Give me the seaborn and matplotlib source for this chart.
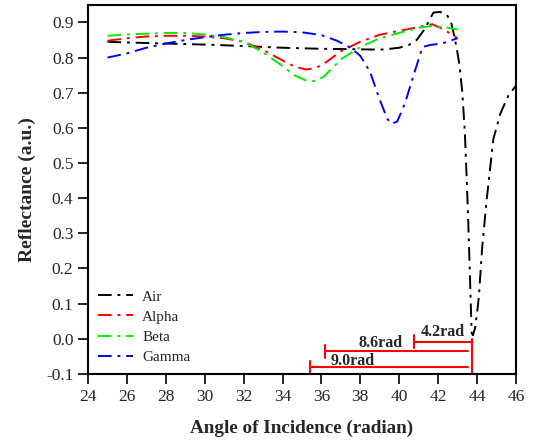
import matplotlib
matplotlib.use("Agg")
import matplotlib.pyplot as plt
import seaborn as sns
import pandas as pd

# Reflectance curves versus angle of incidence
air_x = [25, 26, 28, 30, 32, 34, 36, 37.5, 38.5, 39.2, 40.0, 40.5, 40.9, 41.3, 41.76, 42.1,
         42.44, 42.65, 42.8, 42.95, 43.1, 43.25, 43.38, 43.47, 43.55, 43.65, 43.73, 43.8,
         43.9, 44.0, 44.1, 44.27, 44.5, 44.84, 45.2, 45.6, 46.0]
air_y = [0.845, 0.843, 0.840, 0.837, 0.833, 0.828, 0.825, 0.824, 0.823, 0.823, 0.828, 0.836,
         0.850, 0.880, 0.928, 0.930, 0.922, 0.905, 0.870, 0.830, 0.780, 0.700, 0.586, 0.460,
         0.340, 0.160, 0.016, 0.010, 0.030, 0.070, 0.120, 0.260, 0.395, 0.567, 0.640, 0.690,
         0.720]

alpha_x = [25, 26, 27, 28, 29, 30, 31, 32, 33, 34, 34.6, 35.2, 35.7, 36.2, 37, 38, 39, 40,
           41, 41.7, 42.3, 43]
alpha_y = [0.848, 0.855, 0.860, 0.862, 0.862, 0.860, 0.855, 0.845, 0.822, 0.792, 0.775,
           0.766, 0.770, 0.785, 0.818, 0.845, 0.865, 0.876, 0.887, 0.895, 0.880, 0.855]

beta_x = [25, 26, 27, 28, 29, 30, 31, 32, 33, 34, 34.6, 35.2, 35.6, 36.1, 36.6, 37, 38, 39,
          40, 41, 41.7, 42.5, 43]
beta_y = [0.862, 0.866, 0.868, 0.870, 0.870, 0.866, 0.858, 0.845, 0.815, 0.776, 0.750,
          0.735, 0.733, 0.745, 0.772, 0.795, 0.830, 0.855, 0.870, 0.885, 0.890, 0.885, 0.880]

gamma_x = [25, 26, 27, 28, 29, 30, 31, 32, 33, 34, 35, 36, 36.8, 37.5, 38, 38.5, 39, 39.4,
           39.6, 39.9, 40.3, 40.8, 41.2, 41.6, 42.2, 43]
gamma_y = [0.800, 0.812, 0.828, 0.840, 0.850, 0.858, 0.865, 0.870, 0.873, 0.874, 0.872,
           0.864, 0.848, 0.828, 0.805, 0.760, 0.680, 0.625, 0.612, 0.618, 0.670, 0.760,
           0.830, 0.836, 0.840, 0.855]

# Shift markers: start positions, common end, vertical level and label
shift_labels = ["4.2rad", "8.6rad", "9.0rad"]
shift_start = [40.76, 36.19, 35.39]
shift_end = [43.76, 43.55, 43.55]
shift_level = [-0.008, -0.036, -0.081]
label_x = [42.27, 39.05, 37.6]
label_y = [0.019, -0.011, -0.062]

sns.set_theme(style="ticks")
plt.rcParams["font.family"] = ["Liberation Serif", "DejaVu Serif"]

fig, ax = plt.subplots(figsize=(5.47, 4.42), dpi=100)

series = [("Air", air_x, air_y, "black"),
          ("Alpha", alpha_x, alpha_y, "#ff0000"),
          ("Beta", beta_x, beta_y, "#00ee00"),
          ("Gamma", gamma_x, gamma_y, "#0000ff")]
dash = (0, (7, 3, 1.5, 3))
for name, xs, ys, col in series:
    df = pd.DataFrame({"x": xs, "y": ys})
    sns.lineplot(data=df, x="x", y="y", ax=ax, color=col, linewidth=1.4,
                 linestyle=dash, label=name, sort=False)

# Shift brackets
red = "#ff0000"
for i in range(len(shift_labels)):
    ax.plot([shift_start[i], shift_end[i]], [shift_level[i], shift_level[i]], color=red, lw=1.5)
    ax.plot([shift_start[i], shift_start[i]], [shift_level[i] - 0.019, shift_level[i] + 0.019],
            color=red, lw=1.5)
    ax.text(label_x[i], label_y[i], shift_labels[i], ha="center", va="center",
            fontsize=11.5, fontweight="bold")
ax.plot([43.76, 43.76], [-0.1, 0.0], color=red, lw=1.5)

ax.set_xlim(24, 46)
ax.set_ylim(-0.1, 0.95)
ax.set_xticks(range(24, 47, 2))
ax.set_yticks([-0.1, 0.0, 0.1, 0.2, 0.3, 0.4, 0.5, 0.6, 0.7, 0.8, 0.9])
ax.set_yticklabels(["-0.1", "0.0", "0.1", "0.2", "0.3", "0.4", "0.5", "0.6", "0.7", "0.8", "0.9"])
ax.tick_params(axis="both", labelsize=12.5, direction="out", length=7, width=1.2, color="black")
for s in ax.spines.values():
    s.set_linewidth(1.5)
    s.set_color("black")
    s.set_visible(True)

ax.set_xlabel("Angle of Incidence (radian)", fontsize=13.8, fontweight="bold", labelpad=11)
ax.set_ylabel("Reflectance (a.u.)", fontsize=14, fontweight="bold", labelpad=7)

leg = ax.legend(loc="lower left", frameon=False, fontsize=11, handlelength=2.3,
                borderaxespad=0.25, labelspacing=0.42, handletextpad=0.6,
                bbox_to_anchor=(0.0, 0.0))

fig.subplots_adjust(left=0.161, right=0.943, top=0.989, bottom=0.154)
fig.savefig("out.png", dpi=100)
